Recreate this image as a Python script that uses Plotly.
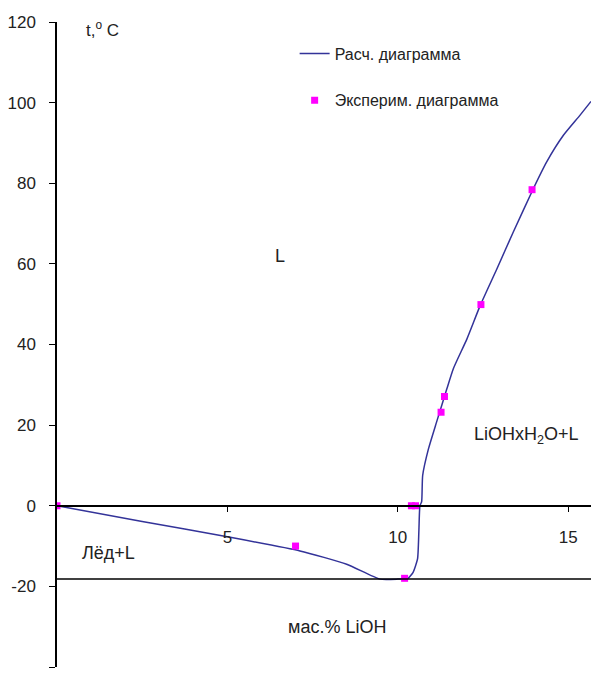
import plotly.graph_objects as go

# Calculated diagram (mass % LiOH, temperature °C)
calc_x = [0, 2.5, 5.0, 7.13, 8.5, 9.48, 10.0, 10.3, 10.45, 10.58, 10.62, 10.65, 10.70,
          10.73, 10.90, 11.14, 11.44, 11.63, 12.03, 12.42, 12.91, 13.39, 13.98,
          14.37, 14.86, 15.35, 15.67]
calc_y = [0, -3.9, -7.7, -11.2, -14.5, -18.2, -18.2, -18.0, -16.5, -13.2, -6.0, 0, 1.0,
          7.5, 14.1, 20.8, 29.0, 34.0, 41.4, 49.7, 58.8, 67.9, 78.7,
          85.3, 91.9, 96.9, 100.3]

# Experimental diagram
exp_x = [0, 7.0, 10.2, 10.40, 10.52, 11.27, 11.37, 12.44, 13.94]
exp_y = [0, -10.0, -18.0, 0, 0, 23.2, 27.1, 49.9, 78.4]

eutectic_t = -18.2

x_range = [0, 15.67]
y_range = [-40, 120]
x_ticks = [5, 10, 15]
x_tick_text = ["5", "10", "15"]
y_ticks = [-40, -20, 0, 20, 40, 60, 80, 100, 120]
y_tick_text = ["-40", "-20", "0", "20", "40", "60", "80", "100", "120"]

FONT = "Liberation Sans, Arial, sans-serif"
TXT = "#222222"

fig = go.Figure()
fig.add_trace(go.Scatter(
    x=calc_x, y=calc_y, mode="lines", name="Расч. диаграмма",
    line=dict(color="#333399", width=1.5, shape="spline", smoothing=0.5),
    legendgroup="a"))
fig.add_trace(go.Scatter(
    x=exp_x, y=exp_y, mode="markers", name="Эксперим. диаграмма",
    marker=dict(color="#FF00FF", symbol="square", size=7), legendgroup="b"))

fig.add_shape(type="line", xref="paper", x0=0, x1=1, yref="y",
              y0=eutectic_t, y1=eutectic_t, line=dict(color="black", width=1.5))

ann = dict(showarrow=False, font=dict(family=FONT, size=18, color=TXT))
fig.add_annotation(x=0.78, y=120, xref="x", yref="y", text="t,<sup>o</sup> C",
                   xanchor="left", yanchor="middle", yshift=-7,
                   showarrow=False, font=dict(family=FONT, size=17, color=TXT))
fig.add_annotation(x=6.55, y=62, text="L", **ann)
fig.add_annotation(x=13.77, y=17.4, text="LiOHxH<sub>2</sub>O+L", **ann)
fig.add_annotation(x=1.5, y=-11.7, text="Лёд+L", **ann)
fig.add_annotation(x=8.22, y=-30, text="мас.% LiOH", **ann)

fig.update_layout(
    width=591, height=673,
    margin=dict(l=57, r=0, t=22, b=6, autoexpand=False),
    paper_bgcolor="white", plot_bgcolor="white",
    font=dict(family=FONT, size=17, color=TXT),
    showlegend=True,
    legend=dict(x=0.445, y=0.9775, xanchor="left", yanchor="top",
                bgcolor="rgba(0,0,0,0)", tracegroupgap=23,
                font=dict(family=FONT, size=16, color=TXT)),
    xaxis=dict(range=x_range, tickvals=x_ticks, ticktext=x_tick_text,
               ticks="outside", ticklen=5, automargin=False,
               tickcolor="black", showline=True, linecolor="black", linewidth=1.5,
               showgrid=False, zeroline=False, anchor="free", position=0.25,
               ticklabelstandoff=11, tickfont=dict(size=17, color=TXT)),
    yaxis=dict(range=y_range, tickvals=y_ticks, ticktext=y_tick_text,
               ticks="outside", ticklen=6, automargin=False,
               tickcolor="black", showline=True, linecolor="black", linewidth=1.5,
               showgrid=False, zeroline=False, ticklabelstandoff=10,
               tickfont=dict(size=17, color=TXT)),
)

fig.write_html(
    "out.html",
    config={"displayModeBar": False},
    post_script="document.body.style.margin='0';document.body.style.overflow='hidden';",
)
